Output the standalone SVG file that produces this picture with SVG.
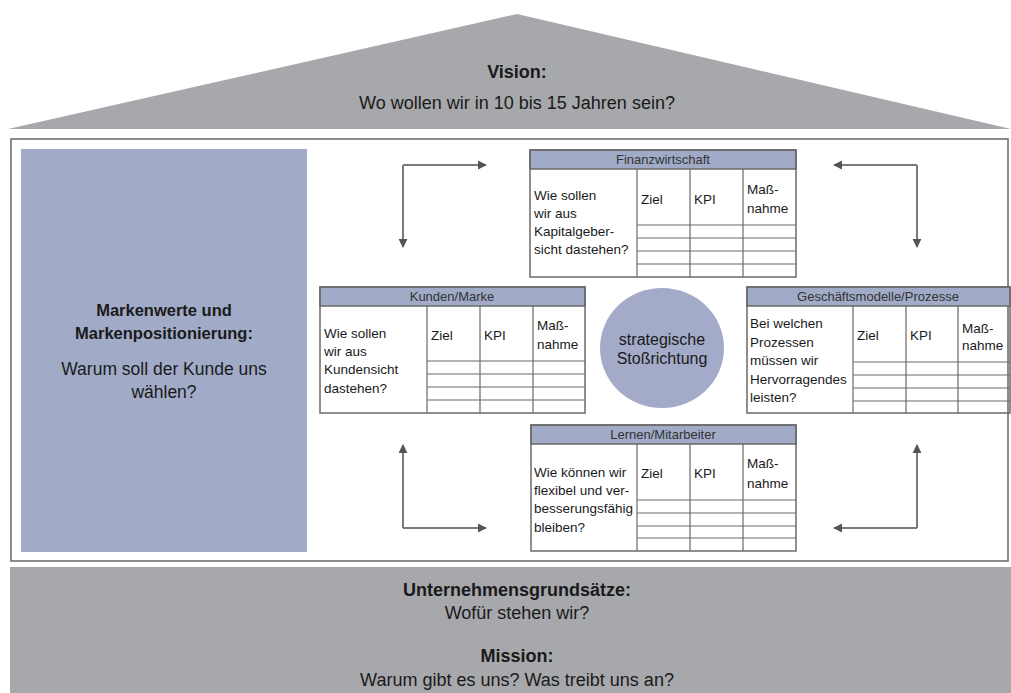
<svg xmlns="http://www.w3.org/2000/svg" width="1011" height="693" viewBox="0 0 1011 693">
<style>
.grey{fill:#a7a8ab}
.blue{fill:#a1abc8}
.t{font-family:"Liberation Sans",Arial,sans-serif;fill:#1a1a1a}
.big{font-size:18px}
.bold{font-weight:bold}
.hdr{font-size:13px;fill:#333}
.cell{font-size:13.5px}
.tb{fill:none;stroke:#6a6a6a;stroke-width:1.5}
.ln{stroke:#6a6a6a;stroke-width:1.2}
.hd{fill:#a1abc8;stroke:#6a6a6a;stroke-width:1.5}
.conn{fill:none;stroke:#7a7a7a;stroke-width:2}
</style>
<defs>
<marker id="ah" viewBox="0 0 10 10" refX="9" refY="5" markerWidth="9" markerHeight="11" markerUnits="userSpaceOnUse" orient="auto">
<path d="M0,0 L10,5 L0,10 Z" fill="#555"/>
</marker>
</defs>
<rect width="1011" height="693" fill="#ffffff"/>

<g id="vision">
<polygon class="grey" points="8,129 517,14 1011,129"/>
<text class="t big bold" x="517" y="78" text-anchor="middle">Vision:</text>
<text class="t big" x="517" y="109" text-anchor="middle">Wo wollen wir in 10 bis 15 Jahren sein?</text>
</g>

<g id="frame">
<rect x="11" y="139" width="997" height="422" fill="none" stroke="#666" stroke-width="1.5"/>
</g>

<g id="markenwerte">
<rect class="blue" x="21" y="149" width="286" height="403"/>
<text class="t bold" font-size="16.5" x="164" y="316" text-anchor="middle">Markenwerte und</text>
<text class="t bold" font-size="16.5" x="164" y="339" text-anchor="middle">Markenpositionierung:</text>
<text class="t" font-size="17.5" x="164" y="375" text-anchor="middle">Warum soll der Kunde uns</text>
<text class="t" font-size="17.5" x="164" y="398" text-anchor="middle">wählen?</text>
</g>

<g id="basis">
<rect class="grey" x="10" y="567" width="1001" height="126"/>
<text class="t big bold" x="517" y="596" text-anchor="middle">Unternehmensgrundsätze:</text>
<text class="t big" x="517" y="619" text-anchor="middle">Wofür stehen wir?</text>
<text class="t big bold" x="517" y="662" text-anchor="middle">Mission:</text>
<text class="t big" x="517" y="686" text-anchor="middle">Warum gibt es uns? Was treibt uns an?</text>
</g>

<g id="connectors">
<path class="conn" d="M403,165 L486,165" marker-end="url(#ah)"/>
<path class="conn" d="M403,165 L403,247" marker-end="url(#ah)"/>
<path class="conn" d="M917,165 L834,165" marker-end="url(#ah)"/>
<path class="conn" d="M917,165 L917,247" marker-end="url(#ah)"/>
<path class="conn" d="M403,528 L403,445" marker-end="url(#ah)"/>
<path class="conn" d="M403,528 L486,528" marker-end="url(#ah)"/>
<path class="conn" d="M917,528 L917,445" marker-end="url(#ah)"/>
<path class="conn" d="M917,528 L834,528" marker-end="url(#ah)"/>
</g>

<g id="strategie">
<ellipse cx="662" cy="348" rx="62" ry="60" fill="#a3abc8"/>
<text class="t" font-size="16" fill="#333" x="662" y="345" text-anchor="middle">strategische</text>
<text class="t" font-size="16" fill="#333" x="662" y="364" text-anchor="middle">Stoßrichtung</text>
</g>

<g id="finanzwirtschaft">
<rect class="hd" x="530" y="150" width="266" height="19"/>
<rect class="tb" x="530" y="150" width="266" height="127"/>
<path class="ln" d="M637,169V277 M690,169V277 M743,169V277 M637,225H796 M637,238H796 M637,251H796 M637,264H796"/>
<text class="t hdr" x="663" y="164" text-anchor="middle">Finanzwirtschaft</text>
<text class="t cell" x="534" y="200">Wie sollen</text>
<text class="t cell" x="534" y="218">wir aus</text>
<text class="t cell" x="534" y="236">Kapitalgeber-</text>
<text class="t cell" x="534" y="254">sicht dastehen?</text>
<text class="t cell" x="641" y="204">Ziel</text>
<text class="t cell" x="694" y="204">KPI</text>
<text class="t cell" x="747" y="194">Maß-</text>
<text class="t cell" x="747" y="213">nahme</text>
</g>

<g id="kunden">
<rect class="hd" x="320" y="287" width="265" height="19"/>
<rect class="tb" x="320" y="287" width="265" height="126"/>
<path class="ln" d="M427,306V413 M480,306V413 M533,306V413 M427,361H585 M427,374H585 M427,387H585 M427,400H585"/>
<text class="t hdr" x="452" y="301" text-anchor="middle">Kunden/Marke</text>
<text class="t cell" x="324" y="338">Wie sollen</text>
<text class="t cell" x="324" y="356">wir aus</text>
<text class="t cell" x="324" y="374">Kundensicht</text>
<text class="t cell" x="324" y="393">dastehen?</text>
<text class="t cell" x="431" y="340">Ziel</text>
<text class="t cell" x="484" y="340">KPI</text>
<text class="t cell" x="537" y="330">Maß-</text>
<text class="t cell" x="537" y="349">nahme</text>
</g>

<g id="geschaeftsmodelle">
<rect class="hd" x="747" y="287" width="263" height="19"/>
<rect class="tb" x="747" y="287" width="263" height="126"/>
<path class="ln" d="M853,306V413 M906,306V413 M958,306V413 M853,362H1010 M853,375H1010 M853,388H1010 M853,401H1010"/>
<text class="t hdr" x="878" y="301" text-anchor="middle">Geschäftsmodelle/Prozesse</text>
<text class="t cell" x="750" y="328">Bei welchen</text>
<text class="t cell" x="750" y="347">Prozessen</text>
<text class="t cell" x="750" y="365">müssen wir</text>
<text class="t cell" x="750" y="384">Hervorragendes</text>
<text class="t cell" x="750" y="402">leisten?</text>
<text class="t cell" x="857" y="340">Ziel</text>
<text class="t cell" x="910" y="340">KPI</text>
<text class="t cell" x="962" y="333">Maß-</text>
<text class="t cell" x="962" y="350">nahme</text>
</g>

<g id="lernen">
<rect class="hd" x="531" y="425" width="265" height="19"/>
<rect class="tb" x="531" y="425" width="265" height="126"/>
<path class="ln" d="M637,444V551 M690,444V551 M743,444V551 M637,500H796 M637,513H796 M637,526H796 M637,538H796"/>
<text class="t hdr" x="663" y="439" text-anchor="middle">Lernen/Mitarbeiter</text>
<text class="t cell" x="534" y="477">Wie können wir</text>
<text class="t cell" x="534" y="495">flexibel und ver-</text>
<text class="t cell" x="534" y="513">besserungsfähig</text>
<text class="t cell" x="534" y="532">bleiben?</text>
<text class="t cell" x="641" y="478">Ziel</text>
<text class="t cell" x="694" y="478">KPI</text>
<text class="t cell" x="747" y="468">Maß-</text>
<text class="t cell" x="747" y="488">nahme</text>
</g>
</svg>
